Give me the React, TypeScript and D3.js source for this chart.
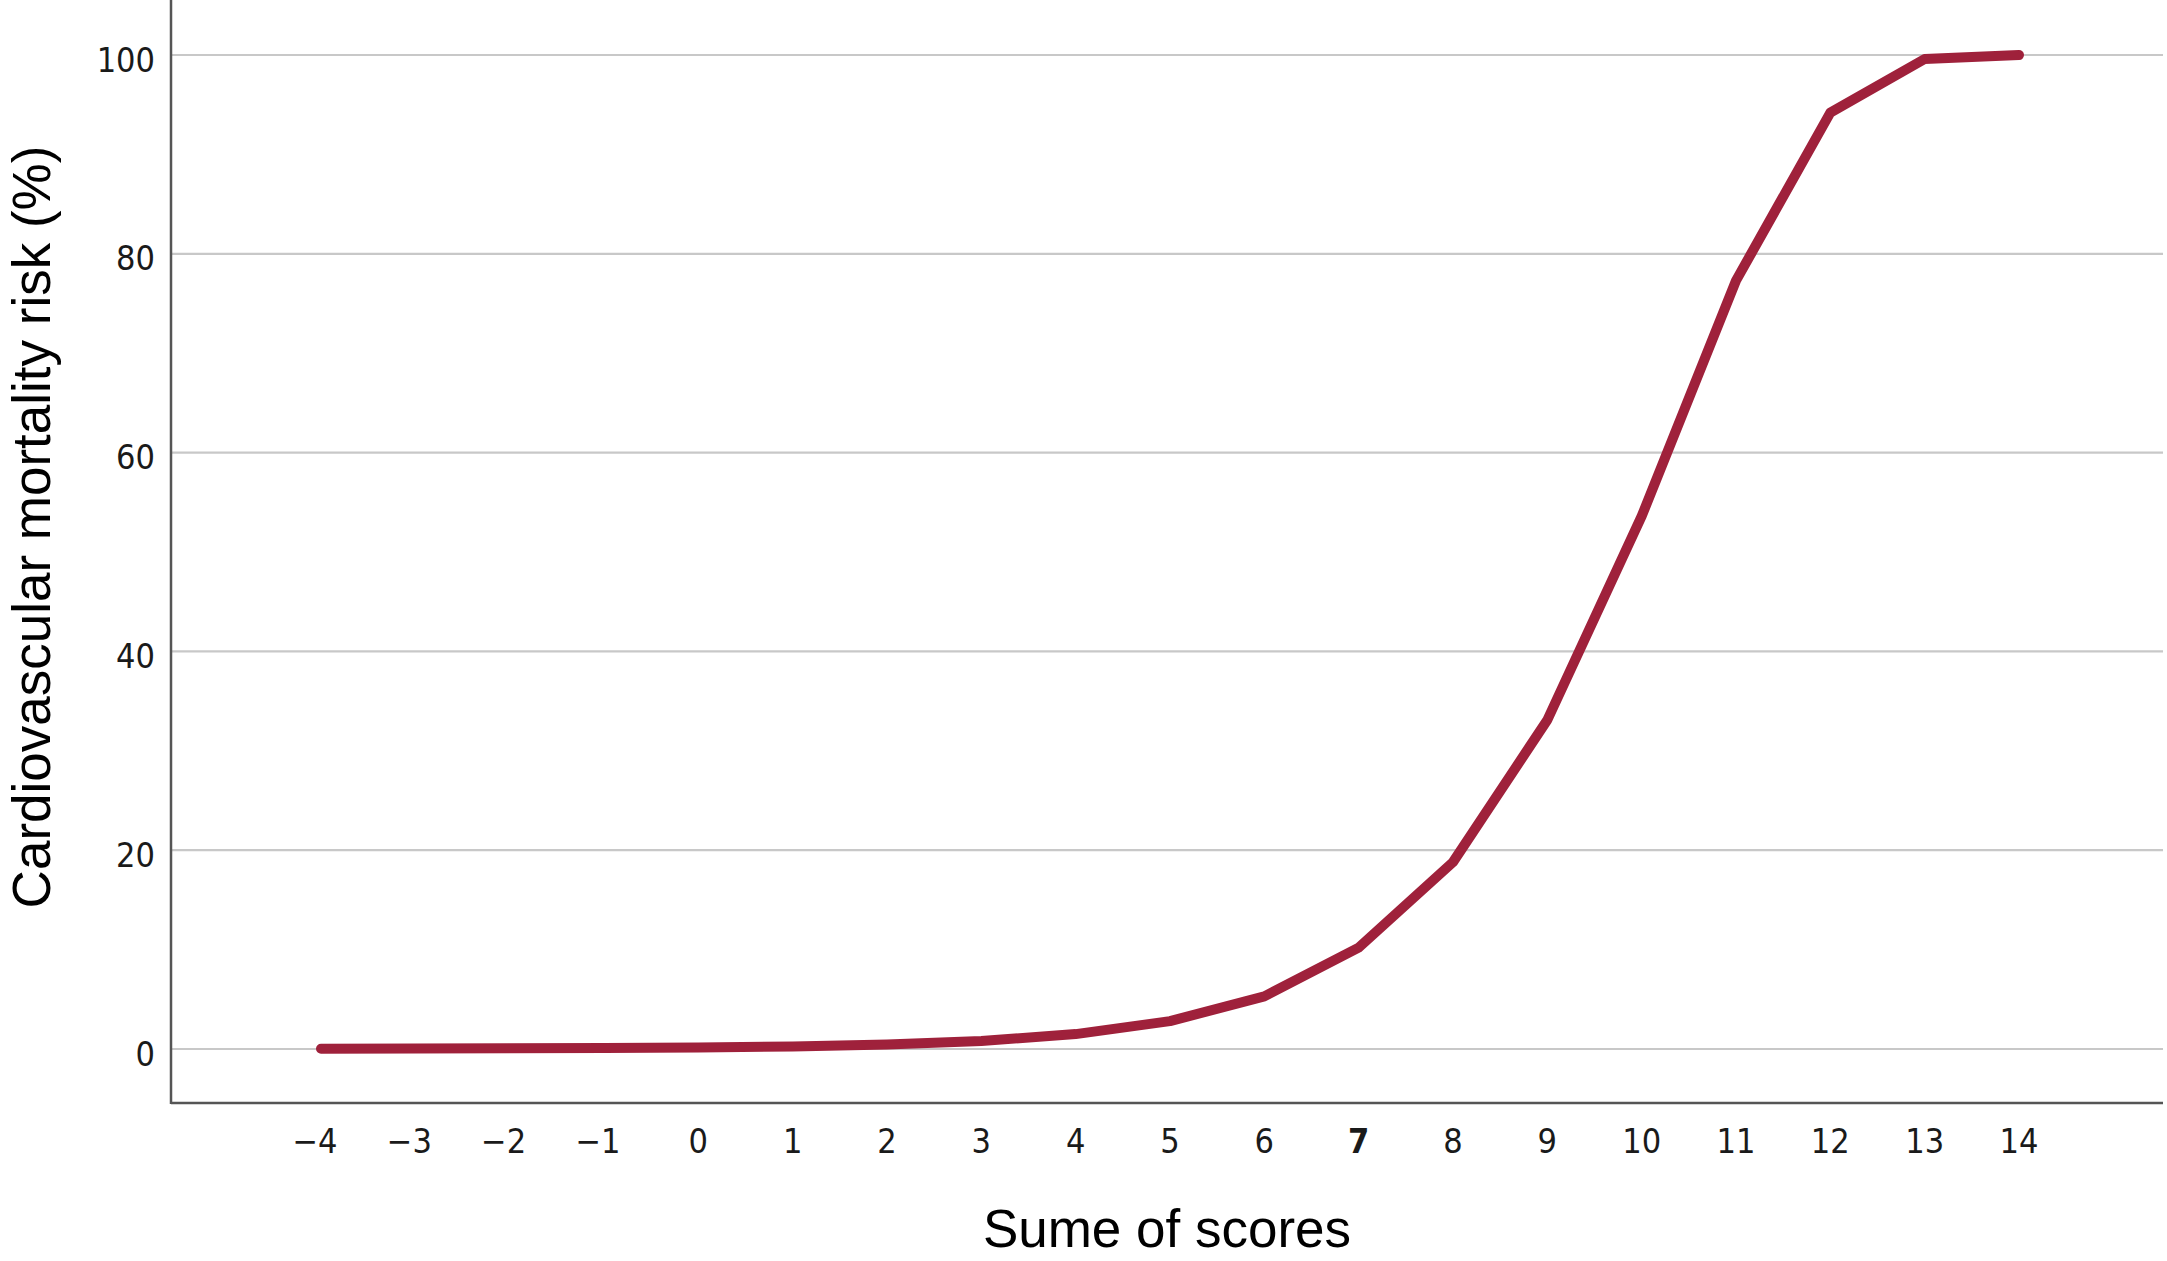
import React from "react";
import * as d3 from "d3";

const scores = [-4, -3, -2, -1, 0, 1, 2, 3, 4, 5, 6, 7, 8, 9, 10, 11, 12, 13, 14];
const risk = [0.02, 0.04, 0.07, 0.1, 0.15, 0.25, 0.45, 0.8, 1.5, 2.8, 5.3, 10.2, 18.8, 33.1, 53.6, 77.3, 94.2, 99.6, 100];
const yTicks = [0, 20, 40, 60, 80, 100];
const xTickLabels = ["−4", "−3", "−2", "−1", "0", "1", "2", "3", "4", "5", "6", "7", "8", "9", "10", "11", "12", "13", "14"];
const boldTicks = ["7"];

const W = 2167;
const H = 1261;
const plotLeft = 171;
const plotRight = 2163;
const plotBottom = 1103;
const plotTop = 0;

const tickFont = "'DejaVu Sans Condensed', 'DejaVu Sans', sans-serif";
const titleFont = "'Liberation Sans', Arial, sans-serif";

export default function App() {
  const x = d3.scaleLinear().domain([-4, 14]).range([321, 2019]);
  const y = d3.scaleLinear().domain([0, 100]).range([1049, 55]);
  const line = d3
    .line<number>()
    .x((_, i) => x(scores[i]))
    .y((d) => y(d));

  return (
    <svg
      width={W}
      height={H}
      style={{ position: "absolute", left: 0, top: 0, background: "#fff" }}
    >
      <rect x={0} y={0} width={W} height={H} fill="#fff" />
      {yTicks.map((t) => (
        <line
          key={"g" + t}
          x1={plotLeft}
          x2={plotRight}
          y1={y(t)}
          y2={y(t)}
          stroke="#c8c8c8"
          strokeWidth={2.2}
        />
      ))}
      <line x1={plotLeft} x2={plotLeft} y1={plotTop} y2={plotBottom + 1} stroke="#555" strokeWidth={2.5} />
      <line x1={plotLeft} x2={plotRight} y1={plotBottom} y2={plotBottom} stroke="#555" strokeWidth={2.5} />
      {yTicks.map((t) => (
        <text
          key={"yl" + t}
          x={155}
          y={y(t) + 16.5}
          textAnchor="end"
          fontFamily={tickFont}
          fontSize={34}
          fill="#1a1a1a"
        >
          {String(t)}
        </text>
      ))}
      {scores.map((s, i) => (
        <text
          key={"xl" + s}
          x={x(s) - (s < 0 ? 6 : 0)}
          y={1153}
          textAnchor="middle"
          fontFamily={tickFont}
          fontSize={34}
          fontWeight={boldTicks.includes(xTickLabels[i]) ? "bold" : "normal"}
          fill="#1a1a1a"
        >
          {xTickLabels[i]}
        </text>
      ))}
      <path
        d={line(risk) || ""}
        fill="none"
        stroke="#9f213b"
        strokeWidth={10}
        strokeLinecap="round"
        strokeLinejoin="round"
      />
      <text
        x={(plotLeft + plotRight) / 2}
        y={1247}
        textAnchor="middle"
        fontFamily={titleFont}
        fontSize={53}
        fill="#000"
      >
        Sume of scores
      </text>
      <text
        transform="rotate(-90)"
        x={-527}
        y={50}
        textAnchor="middle"
        fontFamily={titleFont}
        fontSize={53}
        fill="#000"
      >
        Cardiovascular mortality risk (%)
      </text>
    </svg>
  );
}
